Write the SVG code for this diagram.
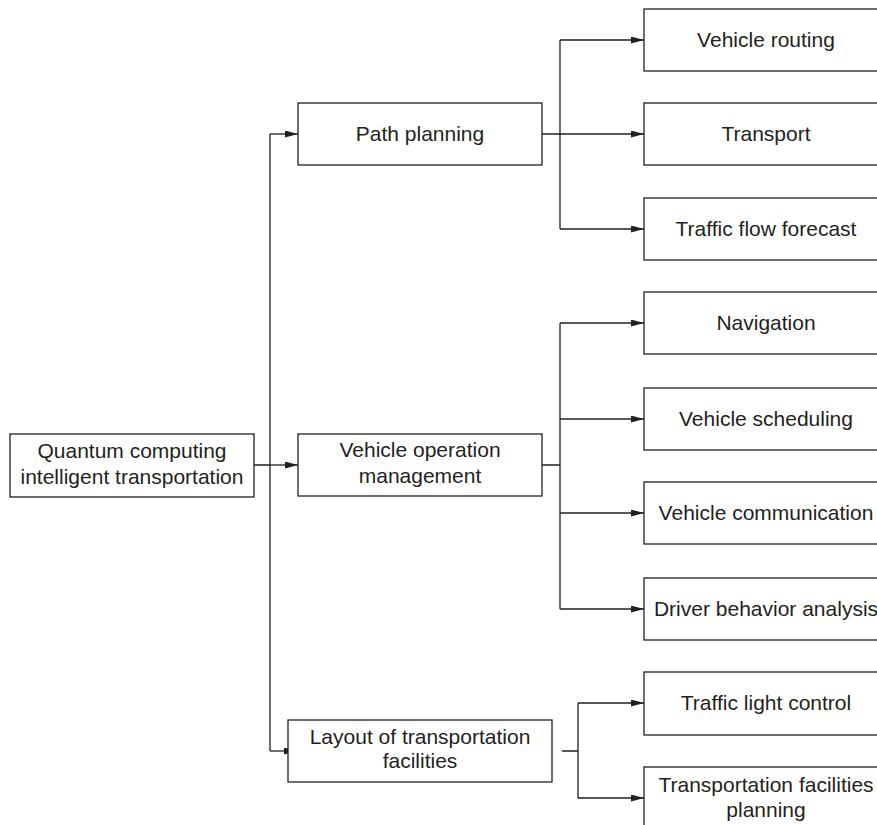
<svg xmlns="http://www.w3.org/2000/svg" width="877" height="825" viewBox="0 0 877 825">
<style>
.box{fill:#fff;stroke:#231f20;stroke-width:1.3}
.t{font-family:"Liberation Sans",Arial,sans-serif;font-size:21px;fill:#231f20;text-anchor:middle}
.c{fill:none;stroke:#231f20;stroke-width:1.3}
.a{fill:none;stroke:#231f20;stroke-width:1.3;marker-end:url(#ah)}
</style>
<defs>
<marker id="ah" markerUnits="userSpaceOnUse" markerWidth="13" markerHeight="8" refX="13" refY="3.5" orient="auto">
<path d="M0,0 L13,3.5 L0,7 z" fill="#231f20"/>
</marker>
</defs>
<rect width="877" height="825" fill="#fff"/>
<g id="connectors">
<path class="c" d="M254,465 H270 M270,134 V751"/>
<path class="a" d="M270,134 H298"/>
<path class="a" d="M270,465 H298"/>
<path class="a" d="M270,751 H297"/>
<path class="c" d="M560,40 V229"/>
<path class="a" d="M542,134 H644"/>
<path class="a" d="M560,40 H644"/>
<path class="a" d="M560,229 H644"/>
<path class="c" d="M542,465 H560 M560,323 V609"/>
<path class="a" d="M560,323 H644"/>
<path class="a" d="M560,419 H644"/>
<path class="a" d="M560,513 H644"/>
<path class="a" d="M560,609 H644"/>
<path class="c" d="M562,751 H578 M578,703 V798"/>
<path class="a" d="M578,703 H644"/>
<path class="a" d="M578,798 H644"/>
</g>
<g id="root"><rect class="box" x="10" y="434" width="244" height="63"/><text class="t" x="132" y="457.5">Quantum computing</text><text class="t" x="132" y="483.5">intelligent transportation</text></g>
<g id="path-planning"><rect class="box" x="298" y="103" width="244" height="62"/><text class="t" x="420" y="141">Path planning</text></g>
<g id="vehicle-operation"><rect class="box" x="298" y="434" width="244" height="62"/><text class="t" x="420" y="457">Vehicle operation</text><text class="t" x="420" y="483">management</text></g>
<g id="layout-facilities"><rect class="box" x="288" y="720" width="264" height="62"/><text class="t" x="420" y="744">Layout of transportation</text><text class="t" x="420" y="768">facilities</text></g>
<g id="vehicle-routing"><rect class="box" x="644" y="9" width="244" height="62"/><text class="t" x="766" y="47">Vehicle routing</text></g>
<g id="transport"><rect class="box" x="644" y="103" width="244" height="62"/><text class="t" x="766" y="141">Transport</text></g>
<g id="traffic-flow"><rect class="box" x="644" y="198" width="244" height="62"/><text class="t" x="766" y="236">Traffic flow forecast</text></g>
<g id="navigation"><rect class="box" x="644" y="292" width="244" height="62"/><text class="t" x="766" y="330">Navigation</text></g>
<g id="vehicle-scheduling"><rect class="box" x="644" y="388" width="244" height="62"/><text class="t" x="766" y="426">Vehicle scheduling</text></g>
<g id="vehicle-communication"><rect class="box" x="644" y="482" width="244" height="62"/><text class="t" x="766" y="520">Vehicle communication</text></g>
<g id="driver-behavior"><rect class="box" x="644" y="578" width="244" height="62"/><text class="t" x="766" y="616">Driver behavior analysis</text></g>
<g id="traffic-light"><rect class="box" x="644" y="672" width="244" height="63"/><text class="t" x="766" y="710">Traffic light control</text></g>
<g id="facilities-planning"><rect class="box" x="644" y="767" width="244" height="62"/><text class="t" x="766" y="792">Transportation facilities</text><text class="t" x="766" y="817">planning</text></g>
</svg>
